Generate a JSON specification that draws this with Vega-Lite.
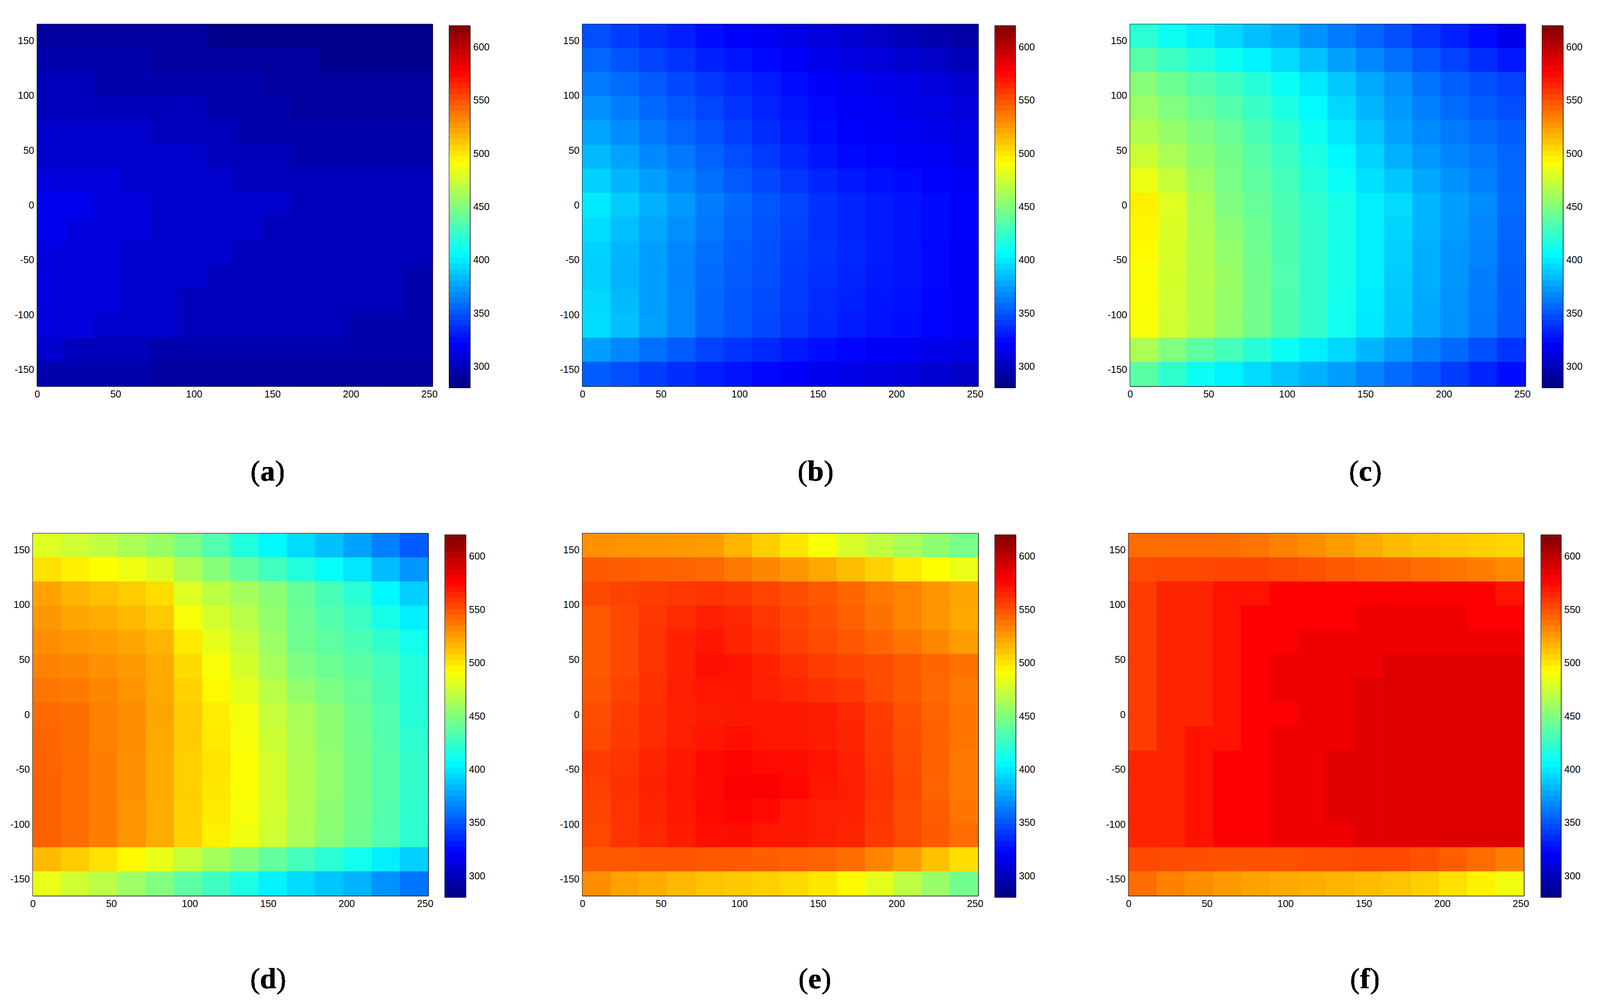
{"$schema":"https://vega.github.io/schema/vega-lite/v6.json","padding":{"left":24,"top":60,"right":0,"bottom":0},"background":"#ffffff","config":{"view":{"stroke":"#000","strokeWidth":2},"axis":{"title":null,"grid":false,"tickSize":-10,"tickColor":"#000","tickWidth":2,"domainColor":"#000","domainWidth":2,"labelFont":"Liberation Sans","labelFontSize":25,"labelColor":"#000","labelPadding":18,"labelOverlap":false,"labelFlush":false}},"datasets":{
"bar":[{"v":282.7},{"v":288},{"v":293.3},{"v":298.6},{"v":303.9},{"v":309.2},{"v":314.5},{"v":319.8},{"v":325.2},{"v":330.5},{"v":335.8},{"v":341.1},{"v":346.4},{"v":351.7},{"v":357},{"v":362.3},{"v":367.7},{"v":373},{"v":378.3},{"v":383.6},{"v":388.9},{"v":394.2},{"v":399.5},{"v":404.8},{"v":410.2},{"v":415.5},{"v":420.8},{"v":426.1},{"v":431.4},{"v":436.7},{"v":442},{"v":447.3},{"v":452.7},{"v":458},{"v":463.3},{"v":468.6},{"v":473.9},{"v":479.2},{"v":484.5},{"v":489.8},{"v":495.2},{"v":500.5},{"v":505.8},{"v":511.1},{"v":516.4},{"v":521.7},{"v":527},{"v":532.3},{"v":537.7},{"v":543},{"v":548.3},{"v":553.6},{"v":558.9},{"v":564.2},{"v":569.5},{"v":574.8},{"v":580.2},{"v":585.5},{"v":590.8},{"v":596.1},{"v":601.4},{"v":606.7},{"v":612},{"v":617.3}],
"a":[
{"x":9,"y":154,"v":290},{"x":27,"y":154,"v":290},{"x":45,"y":154,"v":290},{"x":63,"y":154,"v":290},{"x":81,"y":154,"v":290},{"x":99,"y":154,"v":290},{"x":117,"y":154,"v":285},{"x":135,"y":154,"v":285},{"x":153,"y":154,"v":285},{"x":171,"y":154,"v":285},{"x":189,"y":154,"v":285},{"x":207,"y":154,"v":285},{"x":225,"y":154,"v":285},{"x":243,"y":154,"v":285},
{"x":9,"y":132,"v":295},{"x":27,"y":132,"v":295},{"x":45,"y":132,"v":295},{"x":63,"y":132,"v":295},{"x":81,"y":132,"v":290},{"x":99,"y":132,"v":290},{"x":117,"y":132,"v":290},{"x":135,"y":132,"v":290},{"x":153,"y":132,"v":290},{"x":171,"y":132,"v":290},{"x":189,"y":132,"v":285},{"x":207,"y":132,"v":285},{"x":225,"y":132,"v":285},{"x":243,"y":132,"v":285},
{"x":9,"y":110,"v":300},{"x":27,"y":110,"v":300},{"x":45,"y":110,"v":295},{"x":63,"y":110,"v":295},{"x":81,"y":110,"v":295},{"x":99,"y":110,"v":295},{"x":117,"y":110,"v":295},{"x":135,"y":110,"v":295},{"x":153,"y":110,"v":290},{"x":171,"y":110,"v":290},{"x":189,"y":110,"v":290},{"x":207,"y":110,"v":290},{"x":225,"y":110,"v":290},{"x":243,"y":110,"v":290},
{"x":9,"y":88,"v":300},{"x":27,"y":88,"v":300},{"x":45,"y":88,"v":300},{"x":63,"y":88,"v":300},{"x":81,"y":88,"v":300},{"x":99,"y":88,"v":300},{"x":117,"y":88,"v":295},{"x":135,"y":88,"v":295},{"x":153,"y":88,"v":295},{"x":171,"y":88,"v":290},{"x":189,"y":88,"v":290},{"x":207,"y":88,"v":290},{"x":225,"y":88,"v":290},{"x":243,"y":88,"v":290},
{"x":9,"y":66,"v":305},{"x":27,"y":66,"v":305},{"x":45,"y":66,"v":305},{"x":63,"y":66,"v":305},{"x":81,"y":66,"v":300},{"x":99,"y":66,"v":300},{"x":117,"y":66,"v":300},{"x":135,"y":66,"v":295},{"x":153,"y":66,"v":295},{"x":171,"y":66,"v":295},{"x":189,"y":66,"v":295},{"x":207,"y":66,"v":295},{"x":225,"y":66,"v":295},{"x":243,"y":66,"v":295},
{"x":9,"y":44,"v":305},{"x":27,"y":44,"v":305},{"x":45,"y":44,"v":305},{"x":63,"y":44,"v":305},{"x":81,"y":44,"v":305},{"x":99,"y":44,"v":305},{"x":117,"y":44,"v":300},{"x":135,"y":44,"v":300},{"x":153,"y":44,"v":300},{"x":171,"y":44,"v":295},{"x":189,"y":44,"v":295},{"x":207,"y":44,"v":295},{"x":225,"y":44,"v":295},{"x":243,"y":44,"v":295},
{"x":9,"y":22,"v":311},{"x":27,"y":22,"v":311},{"x":45,"y":22,"v":311},{"x":63,"y":22,"v":305},{"x":81,"y":22,"v":305},{"x":99,"y":22,"v":305},{"x":117,"y":22,"v":305},{"x":135,"y":22,"v":300},{"x":153,"y":22,"v":300},{"x":171,"y":22,"v":300},{"x":189,"y":22,"v":300},{"x":207,"y":22,"v":300},{"x":225,"y":22,"v":300},{"x":243,"y":22,"v":300},
{"x":9,"y":0,"v":317},{"x":27,"y":0,"v":317},{"x":45,"y":0,"v":311},{"x":63,"y":0,"v":311},{"x":81,"y":0,"v":305},{"x":99,"y":0,"v":305},{"x":117,"y":0,"v":305},{"x":135,"y":0,"v":305},{"x":153,"y":0,"v":305},{"x":171,"y":0,"v":300},{"x":189,"y":0,"v":300},{"x":207,"y":0,"v":300},{"x":225,"y":0,"v":300},{"x":243,"y":0,"v":300},
{"x":9,"y":-22,"v":317},{"x":27,"y":-22,"v":311},{"x":45,"y":-22,"v":311},{"x":63,"y":-22,"v":311},{"x":81,"y":-22,"v":305},{"x":99,"y":-22,"v":305},{"x":117,"y":-22,"v":305},{"x":135,"y":-22,"v":305},{"x":153,"y":-22,"v":300},{"x":171,"y":-22,"v":300},{"x":189,"y":-22,"v":300},{"x":207,"y":-22,"v":300},{"x":225,"y":-22,"v":300},{"x":243,"y":-22,"v":300},
{"x":9,"y":-44,"v":311},{"x":27,"y":-44,"v":311},{"x":45,"y":-44,"v":311},{"x":63,"y":-44,"v":305},{"x":81,"y":-44,"v":305},{"x":99,"y":-44,"v":305},{"x":117,"y":-44,"v":305},{"x":135,"y":-44,"v":300},{"x":153,"y":-44,"v":300},{"x":171,"y":-44,"v":300},{"x":189,"y":-44,"v":300},{"x":207,"y":-44,"v":300},{"x":225,"y":-44,"v":300},{"x":243,"y":-44,"v":300},
{"x":9,"y":-66,"v":311},{"x":27,"y":-66,"v":311},{"x":45,"y":-66,"v":311},{"x":63,"y":-66,"v":305},{"x":81,"y":-66,"v":305},{"x":99,"y":-66,"v":305},{"x":117,"y":-66,"v":300},{"x":135,"y":-66,"v":300},{"x":153,"y":-66,"v":300},{"x":171,"y":-66,"v":300},{"x":189,"y":-66,"v":300},{"x":207,"y":-66,"v":300},{"x":225,"y":-66,"v":300},{"x":243,"y":-66,"v":295},
{"x":9,"y":-88,"v":311},{"x":27,"y":-88,"v":311},{"x":45,"y":-88,"v":311},{"x":63,"y":-88,"v":305},{"x":81,"y":-88,"v":305},{"x":99,"y":-88,"v":300},{"x":117,"y":-88,"v":300},{"x":135,"y":-88,"v":300},{"x":153,"y":-88,"v":300},{"x":171,"y":-88,"v":300},{"x":189,"y":-88,"v":300},{"x":207,"y":-88,"v":300},{"x":225,"y":-88,"v":300},{"x":243,"y":-88,"v":295},
{"x":9,"y":-110,"v":311},{"x":27,"y":-110,"v":311},{"x":45,"y":-110,"v":305},{"x":63,"y":-110,"v":305},{"x":81,"y":-110,"v":305},{"x":99,"y":-110,"v":300},{"x":117,"y":-110,"v":300},{"x":135,"y":-110,"v":300},{"x":153,"y":-110,"v":300},{"x":171,"y":-110,"v":300},{"x":189,"y":-110,"v":300},{"x":207,"y":-110,"v":295},{"x":225,"y":-110,"v":295},{"x":243,"y":-110,"v":295},
{"x":9,"y":-132,"v":305},{"x":27,"y":-132,"v":300},{"x":45,"y":-132,"v":300},{"x":63,"y":-132,"v":300},{"x":81,"y":-132,"v":295},{"x":99,"y":-132,"v":295},{"x":117,"y":-132,"v":295},{"x":135,"y":-132,"v":295},{"x":153,"y":-132,"v":295},{"x":171,"y":-132,"v":295},{"x":189,"y":-132,"v":295},{"x":207,"y":-132,"v":295},{"x":225,"y":-132,"v":295},{"x":243,"y":-132,"v":295},
{"x":9,"y":-154,"v":295},{"x":27,"y":-154,"v":295},{"x":45,"y":-154,"v":295},{"x":63,"y":-154,"v":295},{"x":81,"y":-154,"v":290},{"x":99,"y":-154,"v":290},{"x":117,"y":-154,"v":290},{"x":135,"y":-154,"v":290},{"x":153,"y":-154,"v":290},{"x":171,"y":-154,"v":290},{"x":189,"y":-154,"v":290},{"x":207,"y":-154,"v":290},{"x":225,"y":-154,"v":290},{"x":243,"y":-154,"v":290}],
"b":[
{"x":9,"y":154,"v":348},{"x":27,"y":154,"v":342},{"x":45,"y":154,"v":337},{"x":63,"y":154,"v":332},{"x":81,"y":154,"v":326},{"x":99,"y":154,"v":322},{"x":117,"y":154,"v":318},{"x":135,"y":154,"v":314},{"x":153,"y":154,"v":310},{"x":171,"y":154,"v":307},{"x":189,"y":154,"v":303},{"x":207,"y":154,"v":299},{"x":225,"y":154,"v":296},{"x":243,"y":154,"v":292},
{"x":9,"y":132,"v":356},{"x":27,"y":132,"v":350},{"x":45,"y":132,"v":344},{"x":63,"y":132,"v":339},{"x":81,"y":132,"v":333},{"x":99,"y":132,"v":329},{"x":117,"y":132,"v":325},{"x":135,"y":132,"v":320},{"x":153,"y":132,"v":316},{"x":171,"y":132,"v":312},{"x":189,"y":132,"v":310},{"x":207,"y":132,"v":306},{"x":225,"y":132,"v":303},{"x":243,"y":132,"v":299},
{"x":9,"y":110,"v":363},{"x":27,"y":110,"v":358},{"x":45,"y":110,"v":352},{"x":63,"y":110,"v":346},{"x":81,"y":110,"v":340},{"x":99,"y":110,"v":335},{"x":117,"y":110,"v":331},{"x":135,"y":110,"v":326},{"x":153,"y":110,"v":321},{"x":171,"y":110,"v":318},{"x":189,"y":110,"v":316},{"x":207,"y":110,"v":313},{"x":225,"y":110,"v":310},{"x":243,"y":110,"v":307},
{"x":9,"y":88,"v":370},{"x":27,"y":88,"v":364},{"x":45,"y":88,"v":357},{"x":63,"y":88,"v":351},{"x":81,"y":88,"v":345},{"x":99,"y":88,"v":339},{"x":117,"y":88,"v":334},{"x":135,"y":88,"v":329},{"x":153,"y":88,"v":324},{"x":171,"y":88,"v":320},{"x":189,"y":88,"v":318},{"x":207,"y":88,"v":315},{"x":225,"y":88,"v":313},{"x":243,"y":88,"v":310},
{"x":9,"y":66,"v":377},{"x":27,"y":66,"v":369},{"x":45,"y":66,"v":362},{"x":63,"y":66,"v":356},{"x":81,"y":66,"v":350},{"x":99,"y":66,"v":343},{"x":117,"y":66,"v":337},{"x":135,"y":66,"v":331},{"x":153,"y":66,"v":326},{"x":171,"y":66,"v":322},{"x":189,"y":66,"v":320},{"x":207,"y":66,"v":318},{"x":225,"y":66,"v":316},{"x":243,"y":66,"v":313},
{"x":9,"y":44,"v":384},{"x":27,"y":44,"v":376},{"x":45,"y":44,"v":368},{"x":63,"y":44,"v":362},{"x":81,"y":44,"v":355},{"x":99,"y":44,"v":348},{"x":117,"y":44,"v":341},{"x":135,"y":44,"v":335},{"x":153,"y":44,"v":329},{"x":171,"y":44,"v":325},{"x":189,"y":44,"v":323},{"x":207,"y":44,"v":321},{"x":225,"y":44,"v":319},{"x":243,"y":44,"v":316},
{"x":9,"y":22,"v":392},{"x":27,"y":22,"v":383},{"x":45,"y":22,"v":375},{"x":63,"y":22,"v":367},{"x":81,"y":22,"v":359},{"x":99,"y":22,"v":352},{"x":117,"y":22,"v":346},{"x":135,"y":22,"v":340},{"x":153,"y":22,"v":334},{"x":171,"y":22,"v":330},{"x":189,"y":22,"v":327},{"x":207,"y":22,"v":325},{"x":225,"y":22,"v":322},{"x":243,"y":22,"v":319},
{"x":9,"y":0,"v":400},{"x":27,"y":0,"v":390},{"x":45,"y":0,"v":381},{"x":63,"y":0,"v":373},{"x":81,"y":0,"v":364},{"x":99,"y":0,"v":357},{"x":117,"y":0,"v":351},{"x":135,"y":0,"v":345},{"x":153,"y":0,"v":338},{"x":171,"y":0,"v":334},{"x":189,"y":0,"v":331},{"x":207,"y":0,"v":328},{"x":225,"y":0,"v":325},{"x":243,"y":0,"v":322},
{"x":9,"y":-22,"v":396},{"x":27,"y":-22,"v":386},{"x":45,"y":-22,"v":378},{"x":63,"y":-22,"v":370},{"x":81,"y":-22,"v":362},{"x":99,"y":-22,"v":355},{"x":117,"y":-22,"v":350},{"x":135,"y":-22,"v":344},{"x":153,"y":-22,"v":338},{"x":171,"y":-22,"v":334},{"x":189,"y":-22,"v":331},{"x":207,"y":-22,"v":328},{"x":225,"y":-22,"v":325},{"x":243,"y":-22,"v":322},
{"x":9,"y":-44,"v":392},{"x":27,"y":-44,"v":383},{"x":45,"y":-44,"v":375},{"x":63,"y":-44,"v":367},{"x":81,"y":-44,"v":359},{"x":99,"y":-44,"v":353},{"x":117,"y":-44,"v":349},{"x":135,"y":-44,"v":343},{"x":153,"y":-44,"v":339},{"x":171,"y":-44,"v":335},{"x":189,"y":-44,"v":331},{"x":207,"y":-44,"v":328},{"x":225,"y":-44,"v":324},{"x":243,"y":-44,"v":321},
{"x":9,"y":-66,"v":391},{"x":27,"y":-66,"v":382},{"x":45,"y":-66,"v":375},{"x":63,"y":-66,"v":366},{"x":81,"y":-66,"v":358},{"x":99,"y":-66,"v":352},{"x":117,"y":-66,"v":348},{"x":135,"y":-66,"v":342},{"x":153,"y":-66,"v":338},{"x":171,"y":-66,"v":334},{"x":189,"y":-66,"v":330},{"x":207,"y":-66,"v":328},{"x":225,"y":-66,"v":324},{"x":243,"y":-66,"v":321},
{"x":9,"y":-88,"v":394},{"x":27,"y":-88,"v":384},{"x":45,"y":-88,"v":375},{"x":63,"y":-88,"v":367},{"x":81,"y":-88,"v":357},{"x":99,"y":-88,"v":351},{"x":117,"y":-88,"v":347},{"x":135,"y":-88,"v":341},{"x":153,"y":-88,"v":336},{"x":171,"y":-88,"v":333},{"x":189,"y":-88,"v":329},{"x":207,"y":-88,"v":327},{"x":225,"y":-88,"v":323},{"x":243,"y":-88,"v":321},
{"x":9,"y":-110,"v":396},{"x":27,"y":-110,"v":386},{"x":45,"y":-110,"v":376},{"x":63,"y":-110,"v":367},{"x":81,"y":-110,"v":356},{"x":99,"y":-110,"v":351},{"x":117,"y":-110,"v":346},{"x":135,"y":-110,"v":340},{"x":153,"y":-110,"v":335},{"x":171,"y":-110,"v":331},{"x":189,"y":-110,"v":328},{"x":207,"y":-110,"v":326},{"x":225,"y":-110,"v":323},{"x":243,"y":-110,"v":321},
{"x":9,"y":-132,"v":375},{"x":27,"y":-132,"v":367},{"x":45,"y":-132,"v":359},{"x":63,"y":-132,"v":352},{"x":81,"y":-132,"v":344},{"x":99,"y":-132,"v":339},{"x":117,"y":-132,"v":335},{"x":135,"y":-132,"v":330},{"x":153,"y":-132,"v":326},{"x":171,"y":-132,"v":323},{"x":189,"y":-132,"v":320},{"x":207,"y":-132,"v":318},{"x":225,"y":-132,"v":315},{"x":243,"y":-132,"v":313},
{"x":9,"y":-154,"v":353},{"x":27,"y":-154,"v":348},{"x":45,"y":-154,"v":342},{"x":63,"y":-154,"v":337},{"x":81,"y":-154,"v":332},{"x":99,"y":-154,"v":328},{"x":117,"y":-154,"v":324},{"x":135,"y":-154,"v":320},{"x":153,"y":-154,"v":317},{"x":171,"y":-154,"v":314},{"x":189,"y":-154,"v":312},{"x":207,"y":-154,"v":310},{"x":225,"y":-154,"v":307},{"x":243,"y":-154,"v":304}],
"c":[
{"x":9,"y":154,"v":421},{"x":27,"y":154,"v":411},{"x":45,"y":154,"v":402},{"x":63,"y":154,"v":394},{"x":81,"y":154,"v":386},{"x":99,"y":154,"v":380},{"x":117,"y":154,"v":371},{"x":135,"y":154,"v":363},{"x":153,"y":154,"v":356},{"x":171,"y":154,"v":348},{"x":189,"y":154,"v":340},{"x":207,"y":154,"v":333},{"x":225,"y":154,"v":326},{"x":243,"y":154,"v":316},
{"x":9,"y":132,"v":436},{"x":27,"y":132,"v":427},{"x":45,"y":132,"v":419},{"x":63,"y":132,"v":411},{"x":81,"y":132,"v":403},{"x":99,"y":132,"v":395},{"x":117,"y":132,"v":386},{"x":135,"y":132,"v":376},{"x":153,"y":132,"v":367},{"x":171,"y":132,"v":359},{"x":189,"y":132,"v":351},{"x":207,"y":132,"v":344},{"x":225,"y":132,"v":337},{"x":243,"y":132,"v":330},
{"x":9,"y":110,"v":452},{"x":27,"y":110,"v":443},{"x":45,"y":110,"v":435},{"x":63,"y":110,"v":428},{"x":81,"y":110,"v":420},{"x":99,"y":110,"v":410},{"x":117,"y":110,"v":400},{"x":135,"y":110,"v":389},{"x":153,"y":110,"v":379},{"x":171,"y":110,"v":370},{"x":189,"y":110,"v":361},{"x":207,"y":110,"v":354},{"x":225,"y":110,"v":349},{"x":243,"y":110,"v":344},
{"x":9,"y":88,"v":459},{"x":27,"y":88,"v":450},{"x":45,"y":88,"v":442},{"x":63,"y":88,"v":435},{"x":81,"y":88,"v":426},{"x":99,"y":88,"v":416},{"x":117,"y":88,"v":406},{"x":135,"y":88,"v":394},{"x":153,"y":88,"v":383},{"x":171,"y":88,"v":373},{"x":189,"y":88,"v":365},{"x":207,"y":88,"v":358},{"x":225,"y":88,"v":353},{"x":243,"y":88,"v":348},
{"x":9,"y":66,"v":466},{"x":27,"y":66,"v":457},{"x":45,"y":66,"v":449},{"x":63,"y":66,"v":442},{"x":81,"y":66,"v":432},{"x":99,"y":66,"v":423},{"x":117,"y":66,"v":411},{"x":135,"y":66,"v":399},{"x":153,"y":66,"v":388},{"x":171,"y":66,"v":376},{"x":189,"y":66,"v":368},{"x":207,"y":66,"v":363},{"x":225,"y":66,"v":358},{"x":243,"y":66,"v":353},
{"x":9,"y":44,"v":475},{"x":27,"y":44,"v":464},{"x":45,"y":44,"v":454},{"x":63,"y":44,"v":446},{"x":81,"y":44,"v":436},{"x":99,"y":44,"v":427},{"x":117,"y":44,"v":416},{"x":135,"y":44,"v":405},{"x":153,"y":44,"v":393},{"x":171,"y":44,"v":381},{"x":189,"y":44,"v":373},{"x":207,"y":44,"v":367},{"x":225,"y":44,"v":362},{"x":243,"y":44,"v":356},
{"x":9,"y":22,"v":486},{"x":27,"y":22,"v":473},{"x":45,"y":22,"v":459},{"x":63,"y":22,"v":447},{"x":81,"y":22,"v":439},{"x":99,"y":22,"v":430},{"x":117,"y":22,"v":419},{"x":135,"y":22,"v":410},{"x":153,"y":22,"v":397},{"x":171,"y":22,"v":388},{"x":189,"y":22,"v":378},{"x":207,"y":22,"v":371},{"x":225,"y":22,"v":365},{"x":243,"y":22,"v":357},
{"x":9,"y":0,"v":497},{"x":27,"y":0,"v":481},{"x":45,"y":0,"v":464},{"x":63,"y":0,"v":449},{"x":81,"y":0,"v":441},{"x":99,"y":0,"v":432},{"x":117,"y":0,"v":423},{"x":135,"y":0,"v":415},{"x":153,"y":0,"v":402},{"x":171,"y":0,"v":395},{"x":189,"y":0,"v":383},{"x":207,"y":0,"v":375},{"x":225,"y":0,"v":369},{"x":243,"y":0,"v":358},
{"x":9,"y":-22,"v":495},{"x":27,"y":-22,"v":480},{"x":45,"y":-22,"v":465},{"x":63,"y":-22,"v":453},{"x":81,"y":-22,"v":443},{"x":99,"y":-22,"v":433},{"x":117,"y":-22,"v":424},{"x":135,"y":-22,"v":415},{"x":153,"y":-22,"v":402},{"x":171,"y":-22,"v":393},{"x":189,"y":-22,"v":382},{"x":207,"y":-22,"v":374},{"x":225,"y":-22,"v":367},{"x":243,"y":-22,"v":356},
{"x":9,"y":-44,"v":493},{"x":27,"y":-44,"v":479},{"x":45,"y":-44,"v":466},{"x":63,"y":-44,"v":456},{"x":81,"y":-44,"v":444},{"x":99,"y":-44,"v":433},{"x":117,"y":-44,"v":424},{"x":135,"y":-44,"v":414},{"x":153,"y":-44,"v":402},{"x":171,"y":-44,"v":391},{"x":189,"y":-44,"v":380},{"x":207,"y":-44,"v":372},{"x":225,"y":-44,"v":366},{"x":243,"y":-44,"v":355},
{"x":9,"y":-66,"v":491},{"x":27,"y":-66,"v":478},{"x":45,"y":-66,"v":467},{"x":63,"y":-66,"v":458},{"x":81,"y":-66,"v":445},{"x":99,"y":-66,"v":434},{"x":117,"y":-66,"v":424},{"x":135,"y":-66,"v":414},{"x":153,"y":-66,"v":402},{"x":171,"y":-66,"v":390},{"x":189,"y":-66,"v":380},{"x":207,"y":-66,"v":372},{"x":225,"y":-66,"v":364},{"x":243,"y":-66,"v":354},
{"x":9,"y":-88,"v":491},{"x":27,"y":-88,"v":477},{"x":45,"y":-88,"v":466},{"x":63,"y":-88,"v":457},{"x":81,"y":-88,"v":445},{"x":99,"y":-88,"v":433},{"x":117,"y":-88,"v":424},{"x":135,"y":-88,"v":413},{"x":153,"y":-88,"v":401},{"x":171,"y":-88,"v":389},{"x":189,"y":-88,"v":379},{"x":207,"y":-88,"v":371},{"x":225,"y":-88,"v":363},{"x":243,"y":-88,"v":353},
{"x":9,"y":-110,"v":490},{"x":27,"y":-110,"v":476},{"x":45,"y":-110,"v":466},{"x":63,"y":-110,"v":456},{"x":81,"y":-110,"v":445},{"x":99,"y":-110,"v":433},{"x":117,"y":-110,"v":424},{"x":135,"y":-110,"v":413},{"x":153,"y":-110,"v":400},{"x":171,"y":-110,"v":388},{"x":189,"y":-110,"v":378},{"x":207,"y":-110,"v":371},{"x":225,"y":-110,"v":362},{"x":243,"y":-110,"v":352},
{"x":9,"y":-132,"v":464},{"x":27,"y":-132,"v":450},{"x":45,"y":-132,"v":438},{"x":63,"y":-132,"v":430},{"x":81,"y":-132,"v":420},{"x":99,"y":-132,"v":410},{"x":117,"y":-132,"v":402},{"x":135,"y":-132,"v":394},{"x":153,"y":-132,"v":383},{"x":171,"y":-132,"v":373},{"x":189,"y":-132,"v":364},{"x":207,"y":-132,"v":357},{"x":225,"y":-132,"v":348},{"x":243,"y":-132,"v":339},
{"x":9,"y":-154,"v":437},{"x":27,"y":-154,"v":423},{"x":45,"y":-154,"v":411},{"x":63,"y":-154,"v":403},{"x":81,"y":-154,"v":395},{"x":99,"y":-154,"v":387},{"x":117,"y":-154,"v":381},{"x":135,"y":-154,"v":375},{"x":153,"y":-154,"v":366},{"x":171,"y":-154,"v":358},{"x":189,"y":-154,"v":351},{"x":207,"y":-154,"v":342},{"x":225,"y":-154,"v":334},{"x":243,"y":-154,"v":326}],
"d":[
{"x":9,"y":154,"v":481},{"x":27,"y":154,"v":476},{"x":45,"y":154,"v":471},{"x":63,"y":154,"v":464},{"x":81,"y":154,"v":458},{"x":99,"y":154,"v":448},{"x":117,"y":154,"v":434},{"x":135,"y":154,"v":418},{"x":153,"y":154,"v":405},{"x":171,"y":154,"v":395},{"x":189,"y":154,"v":386},{"x":207,"y":154,"v":376},{"x":225,"y":154,"v":365},{"x":243,"y":154,"v":352},
{"x":9,"y":132,"v":502},{"x":27,"y":132,"v":497},{"x":45,"y":132,"v":492},{"x":63,"y":132,"v":487},{"x":81,"y":132,"v":480},{"x":99,"y":132,"v":465},{"x":117,"y":132,"v":452},{"x":135,"y":132,"v":440},{"x":153,"y":132,"v":429},{"x":171,"y":132,"v":418},{"x":189,"y":132,"v":409},{"x":207,"y":132,"v":399},{"x":225,"y":132,"v":385},{"x":243,"y":132,"v":372},
{"x":9,"y":110,"v":523},{"x":27,"y":110,"v":517},{"x":45,"y":110,"v":513},{"x":63,"y":110,"v":509},{"x":81,"y":110,"v":503},{"x":99,"y":110,"v":481},{"x":117,"y":110,"v":470},{"x":135,"y":110,"v":462},{"x":153,"y":110,"v":453},{"x":171,"y":110,"v":441},{"x":189,"y":110,"v":431},{"x":207,"y":110,"v":421},{"x":225,"y":110,"v":405},{"x":243,"y":110,"v":391},
{"x":9,"y":88,"v":527},{"x":27,"y":88,"v":522},{"x":45,"y":88,"v":519},{"x":63,"y":88,"v":515},{"x":81,"y":88,"v":510},{"x":99,"y":88,"v":490},{"x":117,"y":88,"v":477},{"x":135,"y":88,"v":468},{"x":153,"y":88,"v":456},{"x":171,"y":88,"v":443},{"x":189,"y":88,"v":435},{"x":207,"y":88,"v":427},{"x":225,"y":88,"v":415},{"x":243,"y":88,"v":402},
{"x":9,"y":66,"v":530},{"x":27,"y":66,"v":527},{"x":45,"y":66,"v":525},{"x":63,"y":66,"v":522},{"x":81,"y":66,"v":517},{"x":99,"y":66,"v":499},{"x":117,"y":66,"v":484},{"x":135,"y":66,"v":473},{"x":153,"y":66,"v":459},{"x":171,"y":66,"v":444},{"x":189,"y":66,"v":438},{"x":207,"y":66,"v":432},{"x":225,"y":66,"v":424},{"x":243,"y":66,"v":413},
{"x":9,"y":44,"v":534},{"x":27,"y":44,"v":532},{"x":45,"y":44,"v":529},{"x":63,"y":44,"v":526},{"x":81,"y":44,"v":520},{"x":99,"y":44,"v":504},{"x":117,"y":44,"v":490},{"x":135,"y":44,"v":478},{"x":153,"y":44,"v":463},{"x":171,"y":44,"v":449},{"x":189,"y":44,"v":443},{"x":207,"y":44,"v":437},{"x":225,"y":44,"v":430},{"x":243,"y":44,"v":418},
{"x":9,"y":22,"v":538},{"x":27,"y":22,"v":536},{"x":45,"y":22,"v":532},{"x":63,"y":22,"v":528},{"x":81,"y":22,"v":521},{"x":99,"y":22,"v":507},{"x":117,"y":22,"v":494},{"x":135,"y":22,"v":483},{"x":153,"y":22,"v":468},{"x":171,"y":22,"v":456},{"x":189,"y":22,"v":448},{"x":207,"y":22,"v":441},{"x":225,"y":22,"v":432},{"x":243,"y":22,"v":419},
{"x":9,"y":0,"v":542},{"x":27,"y":0,"v":540},{"x":45,"y":0,"v":534},{"x":63,"y":0,"v":530},{"x":81,"y":0,"v":522},{"x":99,"y":0,"v":509},{"x":117,"y":0,"v":498},{"x":135,"y":0,"v":488},{"x":153,"y":0,"v":473},{"x":171,"y":0,"v":463},{"x":189,"y":0,"v":454},{"x":207,"y":0,"v":444},{"x":225,"y":0,"v":434},{"x":243,"y":0,"v":420},
{"x":9,"y":-22,"v":543},{"x":27,"y":-22,"v":540},{"x":45,"y":-22,"v":534},{"x":63,"y":-22,"v":530},{"x":81,"y":-22,"v":521},{"x":99,"y":-22,"v":509},{"x":117,"y":-22,"v":499},{"x":135,"y":-22,"v":489},{"x":153,"y":-22,"v":475},{"x":171,"y":-22,"v":464},{"x":189,"y":-22,"v":455},{"x":207,"y":-22,"v":445},{"x":225,"y":-22,"v":435},{"x":243,"y":-22,"v":422},
{"x":9,"y":-44,"v":544},{"x":27,"y":-44,"v":541},{"x":45,"y":-44,"v":535},{"x":63,"y":-44,"v":529},{"x":81,"y":-44,"v":520},{"x":99,"y":-44,"v":508},{"x":117,"y":-44,"v":501},{"x":135,"y":-44,"v":491},{"x":153,"y":-44,"v":478},{"x":171,"y":-44,"v":465},{"x":189,"y":-44,"v":456},{"x":207,"y":-44,"v":446},{"x":225,"y":-44,"v":436},{"x":243,"y":-44,"v":424},
{"x":9,"y":-66,"v":545},{"x":27,"y":-66,"v":541},{"x":45,"y":-66,"v":535},{"x":63,"y":-66,"v":529},{"x":81,"y":-66,"v":520},{"x":99,"y":-66,"v":508},{"x":117,"y":-66,"v":500},{"x":135,"y":-66,"v":491},{"x":153,"y":-66,"v":478},{"x":171,"y":-66,"v":466},{"x":189,"y":-66,"v":456},{"x":207,"y":-66,"v":446},{"x":225,"y":-66,"v":436},{"x":243,"y":-66,"v":424},
{"x":9,"y":-88,"v":545},{"x":27,"y":-88,"v":541},{"x":45,"y":-88,"v":535},{"x":63,"y":-88,"v":528},{"x":81,"y":-88,"v":520},{"x":99,"y":-88,"v":507},{"x":117,"y":-88,"v":499},{"x":135,"y":-88,"v":489},{"x":153,"y":-88,"v":477},{"x":171,"y":-88,"v":465},{"x":189,"y":-88,"v":454},{"x":207,"y":-88,"v":445},{"x":225,"y":-88,"v":435},{"x":243,"y":-88,"v":423},
{"x":9,"y":-110,"v":545},{"x":27,"y":-110,"v":541},{"x":45,"y":-110,"v":535},{"x":63,"y":-110,"v":528},{"x":81,"y":-110,"v":520},{"x":99,"y":-110,"v":507},{"x":117,"y":-110,"v":497},{"x":135,"y":-110,"v":487},{"x":153,"y":-110,"v":476},{"x":171,"y":-110,"v":464},{"x":189,"y":-110,"v":453},{"x":207,"y":-110,"v":444},{"x":225,"y":-110,"v":434},{"x":243,"y":-110,"v":422},
{"x":9,"y":-132,"v":515},{"x":27,"y":-132,"v":509},{"x":45,"y":-132,"v":502},{"x":63,"y":-132,"v":494},{"x":81,"y":-132,"v":485},{"x":99,"y":-132,"v":473},{"x":117,"y":-132,"v":462},{"x":135,"y":-132,"v":452},{"x":153,"y":-132,"v":440},{"x":171,"y":-132,"v":430},{"x":189,"y":-132,"v":421},{"x":207,"y":-132,"v":413},{"x":225,"y":-132,"v":402},{"x":243,"y":-132,"v":391},
{"x":9,"y":-154,"v":485},{"x":27,"y":-154,"v":476},{"x":45,"y":-154,"v":469},{"x":63,"y":-154,"v":459},{"x":81,"y":-154,"v":450},{"x":99,"y":-154,"v":438},{"x":117,"y":-154,"v":428},{"x":135,"y":-154,"v":416},{"x":153,"y":-154,"v":403},{"x":171,"y":-154,"v":395},{"x":189,"y":-154,"v":388},{"x":207,"y":-154,"v":382},{"x":225,"y":-154,"v":371},{"x":243,"y":-154,"v":361}],
"e":[
{"x":9,"y":154,"v":529},{"x":27,"y":154,"v":528},{"x":45,"y":154,"v":527},{"x":63,"y":154,"v":526},{"x":81,"y":154,"v":525},{"x":99,"y":154,"v":517},{"x":117,"y":154,"v":508},{"x":135,"y":154,"v":500},{"x":153,"y":154,"v":490},{"x":171,"y":154,"v":479},{"x":189,"y":154,"v":471},{"x":207,"y":154,"v":463},{"x":225,"y":154,"v":455},{"x":243,"y":154,"v":447},
{"x":9,"y":132,"v":547},{"x":27,"y":132,"v":546},{"x":45,"y":132,"v":545},{"x":63,"y":132,"v":544},{"x":81,"y":132,"v":542},{"x":99,"y":132,"v":537},{"x":117,"y":132,"v":532},{"x":135,"y":132,"v":527},{"x":153,"y":132,"v":521},{"x":171,"y":132,"v":514},{"x":189,"y":132,"v":507},{"x":207,"y":132,"v":499},{"x":225,"y":132,"v":492},{"x":243,"y":132,"v":485},
{"x":9,"y":110,"v":553},{"x":27,"y":110,"v":555},{"x":45,"y":110,"v":557},{"x":63,"y":110,"v":559},{"x":81,"y":110,"v":560},{"x":99,"y":110,"v":558},{"x":117,"y":110,"v":555},{"x":135,"y":110,"v":551},{"x":153,"y":110,"v":548},{"x":171,"y":110,"v":543},{"x":189,"y":110,"v":537},{"x":207,"y":110,"v":533},{"x":225,"y":110,"v":528},{"x":243,"y":110,"v":522},
{"x":9,"y":88,"v":548},{"x":27,"y":88,"v":553},{"x":45,"y":88,"v":559},{"x":63,"y":88,"v":563},{"x":81,"y":88,"v":567},{"x":99,"y":88,"v":564},{"x":117,"y":88,"v":559},{"x":135,"y":88,"v":554},{"x":153,"y":88,"v":550},{"x":171,"y":88,"v":545},{"x":189,"y":88,"v":539},{"x":207,"y":88,"v":533},{"x":225,"y":88,"v":527},{"x":243,"y":88,"v":521},
{"x":9,"y":66,"v":547},{"x":27,"y":66,"v":553},{"x":45,"y":66,"v":560},{"x":63,"y":66,"v":566},{"x":81,"y":66,"v":570},{"x":99,"y":66,"v":565},{"x":117,"y":66,"v":561},{"x":135,"y":66,"v":556},{"x":153,"y":66,"v":552},{"x":171,"y":66,"v":548},{"x":189,"y":66,"v":543},{"x":207,"y":66,"v":538},{"x":225,"y":66,"v":532},{"x":243,"y":66,"v":525},
{"x":9,"y":44,"v":547},{"x":27,"y":44,"v":553},{"x":45,"y":44,"v":560},{"x":63,"y":44,"v":566},{"x":81,"y":44,"v":572},{"x":99,"y":44,"v":571},{"x":117,"y":44,"v":566},{"x":135,"y":44,"v":561},{"x":153,"y":44,"v":557},{"x":171,"y":44,"v":554},{"x":189,"y":44,"v":551},{"x":207,"y":44,"v":547},{"x":225,"y":44,"v":543},{"x":243,"y":44,"v":539},
{"x":9,"y":22,"v":549},{"x":27,"y":22,"v":555},{"x":45,"y":22,"v":561},{"x":63,"y":22,"v":567},{"x":81,"y":22,"v":570},{"x":99,"y":22,"v":570},{"x":117,"y":22,"v":567},{"x":135,"y":22,"v":564},{"x":153,"y":22,"v":561},{"x":171,"y":22,"v":558},{"x":189,"y":22,"v":552},{"x":207,"y":22,"v":547},{"x":225,"y":22,"v":542},{"x":243,"y":22,"v":537},
{"x":9,"y":0,"v":551},{"x":27,"y":0,"v":557},{"x":45,"y":0,"v":562},{"x":63,"y":0,"v":566},{"x":81,"y":0,"v":568},{"x":99,"y":0,"v":569},{"x":117,"y":0,"v":569},{"x":135,"y":0,"v":569},{"x":153,"y":0,"v":568},{"x":171,"y":0,"v":564},{"x":189,"y":0,"v":557},{"x":207,"y":0,"v":550},{"x":225,"y":0,"v":544},{"x":243,"y":0,"v":538},
{"x":9,"y":-22,"v":553},{"x":27,"y":-22,"v":558},{"x":45,"y":-22,"v":563},{"x":63,"y":-22,"v":567},{"x":81,"y":-22,"v":570},{"x":99,"y":-22,"v":572},{"x":117,"y":-22,"v":570},{"x":135,"y":-22,"v":569},{"x":153,"y":-22,"v":568},{"x":171,"y":-22,"v":565},{"x":189,"y":-22,"v":558},{"x":207,"y":-22,"v":551},{"x":225,"y":-22,"v":545},{"x":243,"y":-22,"v":538},
{"x":9,"y":-44,"v":557},{"x":27,"y":-44,"v":560},{"x":45,"y":-44,"v":565},{"x":63,"y":-44,"v":569},{"x":81,"y":-44,"v":574},{"x":99,"y":-44,"v":576},{"x":117,"y":-44,"v":574},{"x":135,"y":-44,"v":573},{"x":153,"y":-44,"v":571},{"x":171,"y":-44,"v":567},{"x":189,"y":-44,"v":559},{"x":207,"y":-44,"v":552},{"x":225,"y":-44,"v":545},{"x":243,"y":-44,"v":537},
{"x":9,"y":-66,"v":556},{"x":27,"y":-66,"v":561},{"x":45,"y":-66,"v":566},{"x":63,"y":-66,"v":570},{"x":81,"y":-66,"v":574},{"x":99,"y":-66,"v":578},{"x":117,"y":-66,"v":578},{"x":135,"y":-66,"v":575},{"x":153,"y":-66,"v":570},{"x":171,"y":-66,"v":567},{"x":189,"y":-66,"v":560},{"x":207,"y":-66,"v":553},{"x":225,"y":-66,"v":544},{"x":243,"y":-66,"v":537},
{"x":9,"y":-88,"v":554},{"x":27,"y":-88,"v":560},{"x":45,"y":-88,"v":565},{"x":63,"y":-88,"v":569},{"x":81,"y":-88,"v":574},{"x":99,"y":-88,"v":576},{"x":117,"y":-88,"v":574},{"x":135,"y":-88,"v":569},{"x":153,"y":-88,"v":567},{"x":171,"y":-88,"v":566},{"x":189,"y":-88,"v":559},{"x":207,"y":-88,"v":552},{"x":225,"y":-88,"v":546},{"x":243,"y":-88,"v":538},
{"x":9,"y":-110,"v":553},{"x":27,"y":-110,"v":560},{"x":45,"y":-110,"v":564},{"x":63,"y":-110,"v":568},{"x":81,"y":-110,"v":572},{"x":99,"y":-110,"v":573},{"x":117,"y":-110,"v":570},{"x":135,"y":-110,"v":569},{"x":153,"y":-110,"v":567},{"x":171,"y":-110,"v":565},{"x":189,"y":-110,"v":558},{"x":207,"y":-110,"v":552},{"x":225,"y":-110,"v":547},{"x":243,"y":-110,"v":541},
{"x":9,"y":-132,"v":547},{"x":27,"y":-132,"v":548},{"x":45,"y":-132,"v":549},{"x":63,"y":-132,"v":549},{"x":81,"y":-132,"v":548},{"x":99,"y":-132,"v":547},{"x":117,"y":-132,"v":546},{"x":135,"y":-132,"v":545},{"x":153,"y":-132,"v":544},{"x":171,"y":-132,"v":541},{"x":189,"y":-132,"v":533},{"x":207,"y":-132,"v":525},{"x":225,"y":-132,"v":513},{"x":243,"y":-132,"v":503},
{"x":9,"y":-154,"v":530},{"x":27,"y":-154,"v":523},{"x":45,"y":-154,"v":520},{"x":63,"y":-154,"v":515},{"x":81,"y":-154,"v":512},{"x":99,"y":-154,"v":510},{"x":117,"y":-154,"v":508},{"x":135,"y":-154,"v":505},{"x":153,"y":-154,"v":500},{"x":171,"y":-154,"v":494},{"x":189,"y":-154,"v":483},{"x":207,"y":-154,"v":470},{"x":225,"y":-154,"v":458},{"x":243,"y":-154,"v":445}],
"f":[
{"x":9,"y":154,"v":541},{"x":27,"y":154,"v":541},{"x":45,"y":154,"v":541},{"x":63,"y":154,"v":540},{"x":81,"y":154,"v":538},{"x":99,"y":154,"v":534},{"x":117,"y":154,"v":530},{"x":135,"y":154,"v":525},{"x":153,"y":154,"v":520},{"x":171,"y":154,"v":515},{"x":189,"y":154,"v":512},{"x":207,"y":154,"v":510},{"x":225,"y":154,"v":508},{"x":243,"y":154,"v":506},
{"x":9,"y":132,"v":552},{"x":27,"y":132,"v":553},{"x":45,"y":132,"v":553},{"x":63,"y":132,"v":554},{"x":81,"y":132,"v":554},{"x":99,"y":132,"v":552},{"x":117,"y":132,"v":550},{"x":135,"y":132,"v":547},{"x":153,"y":132,"v":545},{"x":171,"y":132,"v":544},{"x":189,"y":132,"v":541},{"x":207,"y":132,"v":538},{"x":225,"y":132,"v":535},{"x":243,"y":132,"v":531},
{"x":9,"y":110,"v":557},{"x":27,"y":110,"v":565},{"x":45,"y":110,"v":565},{"x":63,"y":110,"v":571},{"x":81,"y":110,"v":571},{"x":99,"y":110,"v":577},{"x":117,"y":110,"v":577},{"x":135,"y":110,"v":577},{"x":153,"y":110,"v":577},{"x":171,"y":110,"v":577},{"x":189,"y":110,"v":577},{"x":207,"y":110,"v":577},{"x":225,"y":110,"v":577},{"x":243,"y":110,"v":571},
{"x":9,"y":88,"v":557},{"x":27,"y":88,"v":565},{"x":45,"y":88,"v":565},{"x":63,"y":88,"v":571},{"x":81,"y":88,"v":577},{"x":99,"y":88,"v":577},{"x":117,"y":88,"v":577},{"x":135,"y":88,"v":577},{"x":153,"y":88,"v":582},{"x":171,"y":88,"v":582},{"x":189,"y":88,"v":582},{"x":207,"y":88,"v":582},{"x":225,"y":88,"v":577},{"x":243,"y":88,"v":577},
{"x":9,"y":66,"v":557},{"x":27,"y":66,"v":565},{"x":45,"y":66,"v":565},{"x":63,"y":66,"v":571},{"x":81,"y":66,"v":577},{"x":99,"y":66,"v":577},{"x":117,"y":66,"v":582},{"x":135,"y":66,"v":582},{"x":153,"y":66,"v":582},{"x":171,"y":66,"v":582},{"x":189,"y":66,"v":582},{"x":207,"y":66,"v":582},{"x":225,"y":66,"v":582},{"x":243,"y":66,"v":582},
{"x":9,"y":44,"v":557},{"x":27,"y":44,"v":565},{"x":45,"y":44,"v":565},{"x":63,"y":44,"v":571},{"x":81,"y":44,"v":577},{"x":99,"y":44,"v":582},{"x":117,"y":44,"v":582},{"x":135,"y":44,"v":582},{"x":153,"y":44,"v":582},{"x":171,"y":44,"v":587},{"x":189,"y":44,"v":587},{"x":207,"y":44,"v":587},{"x":225,"y":44,"v":587},{"x":243,"y":44,"v":587},
{"x":9,"y":22,"v":557},{"x":27,"y":22,"v":565},{"x":45,"y":22,"v":565},{"x":63,"y":22,"v":571},{"x":81,"y":22,"v":577},{"x":99,"y":22,"v":582},{"x":117,"y":22,"v":582},{"x":135,"y":22,"v":582},{"x":153,"y":22,"v":587},{"x":171,"y":22,"v":587},{"x":189,"y":22,"v":587},{"x":207,"y":22,"v":587},{"x":225,"y":22,"v":587},{"x":243,"y":22,"v":587},
{"x":9,"y":0,"v":557},{"x":27,"y":0,"v":565},{"x":45,"y":0,"v":565},{"x":63,"y":0,"v":571},{"x":81,"y":0,"v":577},{"x":99,"y":0,"v":577},{"x":117,"y":0,"v":582},{"x":135,"y":0,"v":582},{"x":153,"y":0,"v":587},{"x":171,"y":0,"v":587},{"x":189,"y":0,"v":587},{"x":207,"y":0,"v":587},{"x":225,"y":0,"v":587},{"x":243,"y":0,"v":587},
{"x":9,"y":-22,"v":557},{"x":27,"y":-22,"v":565},{"x":45,"y":-22,"v":571},{"x":63,"y":-22,"v":571},{"x":81,"y":-22,"v":577},{"x":99,"y":-22,"v":582},{"x":117,"y":-22,"v":582},{"x":135,"y":-22,"v":582},{"x":153,"y":-22,"v":587},{"x":171,"y":-22,"v":587},{"x":189,"y":-22,"v":587},{"x":207,"y":-22,"v":587},{"x":225,"y":-22,"v":587},{"x":243,"y":-22,"v":587},
{"x":9,"y":-44,"v":565},{"x":27,"y":-44,"v":565},{"x":45,"y":-44,"v":571},{"x":63,"y":-44,"v":577},{"x":81,"y":-44,"v":577},{"x":99,"y":-44,"v":582},{"x":117,"y":-44,"v":582},{"x":135,"y":-44,"v":587},{"x":153,"y":-44,"v":587},{"x":171,"y":-44,"v":587},{"x":189,"y":-44,"v":587},{"x":207,"y":-44,"v":587},{"x":225,"y":-44,"v":587},{"x":243,"y":-44,"v":587},
{"x":9,"y":-66,"v":565},{"x":27,"y":-66,"v":565},{"x":45,"y":-66,"v":571},{"x":63,"y":-66,"v":577},{"x":81,"y":-66,"v":577},{"x":99,"y":-66,"v":582},{"x":117,"y":-66,"v":582},{"x":135,"y":-66,"v":587},{"x":153,"y":-66,"v":587},{"x":171,"y":-66,"v":587},{"x":189,"y":-66,"v":587},{"x":207,"y":-66,"v":587},{"x":225,"y":-66,"v":587},{"x":243,"y":-66,"v":587},
{"x":9,"y":-88,"v":565},{"x":27,"y":-88,"v":565},{"x":45,"y":-88,"v":571},{"x":63,"y":-88,"v":577},{"x":81,"y":-88,"v":577},{"x":99,"y":-88,"v":582},{"x":117,"y":-88,"v":582},{"x":135,"y":-88,"v":587},{"x":153,"y":-88,"v":587},{"x":171,"y":-88,"v":587},{"x":189,"y":-88,"v":587},{"x":207,"y":-88,"v":587},{"x":225,"y":-88,"v":587},{"x":243,"y":-88,"v":587},
{"x":9,"y":-110,"v":565},{"x":27,"y":-110,"v":565},{"x":45,"y":-110,"v":571},{"x":63,"y":-110,"v":577},{"x":81,"y":-110,"v":577},{"x":99,"y":-110,"v":582},{"x":117,"y":-110,"v":582},{"x":135,"y":-110,"v":582},{"x":153,"y":-110,"v":587},{"x":171,"y":-110,"v":587},{"x":189,"y":-110,"v":587},{"x":207,"y":-110,"v":587},{"x":225,"y":-110,"v":587},{"x":243,"y":-110,"v":587},
{"x":9,"y":-132,"v":553},{"x":27,"y":-132,"v":552},{"x":45,"y":-132,"v":551},{"x":63,"y":-132,"v":550},{"x":81,"y":-132,"v":550},{"x":99,"y":-132,"v":550},{"x":117,"y":-132,"v":551},{"x":135,"y":-132,"v":552},{"x":153,"y":-132,"v":553},{"x":171,"y":-132,"v":553},{"x":189,"y":-132,"v":550},{"x":207,"y":-132,"v":546},{"x":225,"y":-132,"v":541},{"x":243,"y":-132,"v":535},
{"x":9,"y":-154,"v":541},{"x":27,"y":-154,"v":534},{"x":45,"y":-154,"v":530},{"x":63,"y":-154,"v":526},{"x":81,"y":-154,"v":523},{"x":99,"y":-154,"v":521},{"x":117,"y":-154,"v":519},{"x":135,"y":-154,"v":517},{"x":153,"y":-154,"v":514},{"x":171,"y":-154,"v":512},{"x":189,"y":-154,"v":508},{"x":207,"y":-154,"v":502},{"x":225,"y":-154,"v":496},{"x":243,"y":-154,"v":487}]
},"vconcat":[{"hconcat":[
{"width":11,"height":927,"view":{"stroke":null},"data":{"values":[{}]},"mark":{"type":"rect","opacity":0}},
{"width":1012,"height":927,"data":{"name":"a"},"layer":[{"mark":{"type":"rect","width":73,"height":63,"clip":true},"encoding":{"x":{"field":"x","type":"quantitative","scale":{"domain":[0,252],"nice":false,"zero":false},"axis":{"values":[0,50,100,150,200,250]}},"y":{"field":"y","type":"quantitative","scale":{"domain":[-165,165],"nice":false,"zero":false},"axis":{"labelExpr":"''+datum.value","values":[-150,-100,-50,0,50,100,150]}},"color":{"field":"v","type":"quantitative","legend":null,"scale":{"interpolate":"rgb","domain":[280,322,407,492,577,620],"range":["#000080","#0000ff","#00ffff","#ffff00","#ff0000","#800000"]}}}},{"mark":{"type":"text","text":"(","align":"right","dx":-19,"dy":219,"font":"Liberation Serif","fontSize":75,"baseline":"middle"},"encoding":{"x":{"datum":147,"axis":{"orient":"top","labels":false,"values":[0,50,100,150,200,250]}},"y":{"datum":-165,"axis":{"orient":"right","labels":false,"values":[-150,-100,-50,0,50,100,150]}}}},{"mark":{"type":"text","text":"a","align":"center","dy":219,"font":"Liberation Serif","fontWeight":"bold","fontSize":75,"baseline":"middle"},"encoding":{"x":{"datum":147,"axis":null},"y":{"datum":-165,"axis":null}}},{"mark":{"type":"text","text":")","align":"left","dx":19,"dy":219,"font":"Liberation Serif","fontSize":75,"baseline":"middle"},"encoding":{"x":{"datum":147,"axis":null},"y":{"datum":-165,"axis":null}}}],"resolve":{"axis":{"x":"independent","y":"independent"}}},
{"width":43,"height":927,"view":{"stroke":null},"data":{"values":[{}]},"mark":{"type":"rect","opacity":0}},
{"vconcat":[{"width":53,"height":4,"view":{"stroke":null},"data":{"values":[{}]},"mark":{"type":"rect","opacity":0}},{"width":53,"height":927,"data":{"name":"bar"},"layer":[{"mark":{"type":"rect","width":53,"height":16,"clip":true},"encoding":{"x":{"datum":0.5,"scale":{"domain":[0,1]},"axis":null},"y":{"field":"v","type":"quantitative","scale":{"domain":[280,620],"nice":false,"zero":false},"axis":{"orient":"right","values":[300,350,400,450,500,550,600]}},"color":{"field":"v","type":"quantitative","legend":null,"scale":{"interpolate":"rgb","domain":[280,322,407,492,577,620],"range":["#000080","#0000ff","#00ffff","#ffff00","#ff0000","#800000"]}}}},{"mark":{"type":"rect","width":53,"height":16,"opacity":0},"encoding":{"x":{"datum":0.5,"axis":null},"y":{"field":"v","type":"quantitative","axis":{"orient":"left","labels":false,"values":[300,350,400,450,500,550,600]}}}}],"resolve":{"axis":{"y":"independent"}}}],"spacing":0,"bounds":"flush"},
{"width":341,"height":927,"view":{"stroke":null},"data":{"values":[{}]},"mark":{"type":"rect","opacity":0}},
{"width":1013,"height":927,"data":{"name":"b"},"layer":[{"mark":{"type":"rect","width":73,"height":63,"clip":true},"encoding":{"x":{"field":"x","type":"quantitative","scale":{"domain":[0,252],"nice":false,"zero":false},"axis":{"values":[0,50,100,150,200,250]}},"y":{"field":"y","type":"quantitative","scale":{"domain":[-165,165],"nice":false,"zero":false},"axis":{"labelExpr":"''+datum.value","values":[-150,-100,-50,0,50,100,150]}},"color":{"field":"v","type":"quantitative","legend":null,"scale":{"interpolate":"rgb","domain":[280,322,407,492,577,620],"range":["#000080","#0000ff","#00ffff","#ffff00","#ff0000","#800000"]}}}},{"mark":{"type":"text","text":"(","align":"right","dx":-21,"dy":219,"font":"Liberation Serif","fontSize":75,"baseline":"middle"},"encoding":{"x":{"datum":148.5,"axis":{"orient":"top","labels":false,"values":[0,50,100,150,200,250]}},"y":{"datum":-165,"axis":{"orient":"right","labels":false,"values":[-150,-100,-50,0,50,100,150]}}}},{"mark":{"type":"text","text":"b","align":"center","dy":219,"font":"Liberation Serif","fontWeight":"bold","fontSize":75,"baseline":"middle"},"encoding":{"x":{"datum":148.5,"axis":null},"y":{"datum":-165,"axis":null}}},{"mark":{"type":"text","text":")","align":"left","dx":21,"dy":219,"font":"Liberation Serif","fontSize":75,"baseline":"middle"},"encoding":{"x":{"datum":148.5,"axis":null},"y":{"datum":-165,"axis":null}}}],"resolve":{"axis":{"x":"independent","y":"independent"}}},
{"width":43,"height":927,"view":{"stroke":null},"data":{"values":[{}]},"mark":{"type":"rect","opacity":0}},
{"vconcat":[{"width":52,"height":4,"view":{"stroke":null},"data":{"values":[{}]},"mark":{"type":"rect","opacity":0}},{"width":52,"height":927,"data":{"name":"bar"},"layer":[{"mark":{"type":"rect","width":53,"height":16,"clip":true},"encoding":{"x":{"datum":0.5,"scale":{"domain":[0,1]},"axis":null},"y":{"field":"v","type":"quantitative","scale":{"domain":[280,620],"nice":false,"zero":false},"axis":{"orient":"right","values":[300,350,400,450,500,550,600]}},"color":{"field":"v","type":"quantitative","legend":null,"scale":{"interpolate":"rgb","domain":[280,322,407,492,577,620],"range":["#000080","#0000ff","#00ffff","#ffff00","#ff0000","#800000"]}}}},{"mark":{"type":"rect","width":53,"height":16,"opacity":0},"encoding":{"x":{"datum":0.5,"axis":null},"y":{"field":"v","type":"quantitative","axis":{"orient":"left","labels":false,"values":[300,350,400,450,500,550,600]}}}}],"resolve":{"axis":{"y":"independent"}}}],"spacing":0,"bounds":"flush"},
{"width":346,"height":927,"view":{"stroke":null},"data":{"values":[{}]},"mark":{"type":"rect","opacity":0}},
{"width":1012,"height":927,"data":{"name":"c"},"layer":[{"mark":{"type":"rect","width":73,"height":63,"clip":true},"encoding":{"x":{"field":"x","type":"quantitative","scale":{"domain":[0,252],"nice":false,"zero":false},"axis":{"values":[0,50,100,150,200,250]}},"y":{"field":"y","type":"quantitative","scale":{"domain":[-165,165],"nice":false,"zero":false},"axis":{"labelExpr":"''+datum.value","values":[-150,-100,-50,0,50,100,150]}},"color":{"field":"v","type":"quantitative","legend":null,"scale":{"interpolate":"rgb","domain":[280,322,407,492,577,620],"range":["#000080","#0000ff","#00ffff","#ffff00","#ff0000","#800000"]}}}},{"mark":{"type":"text","text":"(","align":"right","dx":-17,"dy":219,"font":"Liberation Serif","fontSize":75,"baseline":"middle"},"encoding":{"x":{"datum":150,"axis":{"orient":"top","labels":false,"values":[0,50,100,150,200,250]}},"y":{"datum":-165,"axis":{"orient":"right","labels":false,"values":[-150,-100,-50,0,50,100,150]}}}},{"mark":{"type":"text","text":"c","align":"center","dy":219,"font":"Liberation Serif","fontWeight":"bold","fontSize":75,"baseline":"middle"},"encoding":{"x":{"datum":150,"axis":null},"y":{"datum":-165,"axis":null}}},{"mark":{"type":"text","text":")","align":"left","dx":17,"dy":219,"font":"Liberation Serif","fontSize":75,"baseline":"middle"},"encoding":{"x":{"datum":150,"axis":null},"y":{"datum":-165,"axis":null}}}],"resolve":{"axis":{"x":"independent","y":"independent"}}},
{"width":43,"height":927,"view":{"stroke":null},"data":{"values":[{}]},"mark":{"type":"rect","opacity":0}},
{"vconcat":[{"width":53,"height":4,"view":{"stroke":null},"data":{"values":[{}]},"mark":{"type":"rect","opacity":0}},{"width":53,"height":927,"data":{"name":"bar"},"layer":[{"mark":{"type":"rect","width":53,"height":16,"clip":true},"encoding":{"x":{"datum":0.5,"scale":{"domain":[0,1]},"axis":null},"y":{"field":"v","type":"quantitative","scale":{"domain":[280,620],"nice":false,"zero":false},"axis":{"orient":"right","values":[300,350,400,450,500,550,600]}},"color":{"field":"v","type":"quantitative","legend":null,"scale":{"interpolate":"rgb","domain":[280,322,407,492,577,620],"range":["#000080","#0000ff","#00ffff","#ffff00","#ff0000","#800000"]}}}},{"mark":{"type":"rect","width":53,"height":16,"opacity":0},"encoding":{"x":{"datum":0.5,"axis":null},"y":{"field":"v","type":"quantitative","axis":{"orient":"left","labels":false,"values":[300,350,400,450,500,550,600]}}}}],"resolve":{"axis":{"y":"independent"}}}],"spacing":0,"bounds":"flush"}
],"spacing":0,"bounds":"flush"},{"hconcat":[
{"width":1012,"height":928,"data":{"name":"d"},"layer":[{"mark":{"type":"rect","width":73,"height":63,"clip":true},"encoding":{"x":{"field":"x","type":"quantitative","scale":{"domain":[0,252],"nice":false,"zero":false},"axis":{"values":[0,50,100,150,200,250]}},"y":{"field":"y","type":"quantitative","scale":{"domain":[-165,165],"nice":false,"zero":false},"axis":{"labelExpr":"''+datum.value","values":[-150,-100,-50,0,50,100,150]}},"color":{"field":"v","type":"quantitative","legend":null,"scale":{"interpolate":"rgb","domain":[280,322,407,492,577,620],"range":["#000080","#0000ff","#00ffff","#ffff00","#ff0000","#800000"]}}}},{"mark":{"type":"text","text":"(","align":"right","dx":-21,"dy":214,"font":"Liberation Serif","fontSize":75,"baseline":"middle"},"encoding":{"x":{"datum":150,"axis":{"orient":"top","labels":false,"values":[0,50,100,150,200,250]}},"y":{"datum":-165,"axis":{"orient":"right","labels":false,"values":[-150,-100,-50,0,50,100,150]}}}},{"mark":{"type":"text","text":"d","align":"center","dy":214,"font":"Liberation Serif","fontWeight":"bold","fontSize":75,"baseline":"middle"},"encoding":{"x":{"datum":150,"axis":null},"y":{"datum":-165,"axis":null}}},{"mark":{"type":"text","text":")","align":"left","dx":21,"dy":214,"font":"Liberation Serif","fontSize":75,"baseline":"middle"},"encoding":{"x":{"datum":150,"axis":null},"y":{"datum":-165,"axis":null}}}],"resolve":{"axis":{"x":"independent","y":"independent"}}},
{"width":43,"height":928,"view":{"stroke":null},"data":{"values":[{}]},"mark":{"type":"rect","opacity":0}},
{"vconcat":[{"width":53,"height":4,"view":{"stroke":null},"data":{"values":[{}]},"mark":{"type":"rect","opacity":0}},{"width":53,"height":928,"data":{"name":"bar"},"layer":[{"mark":{"type":"rect","width":53,"height":16,"clip":true},"encoding":{"x":{"datum":0.5,"scale":{"domain":[0,1]},"axis":null},"y":{"field":"v","type":"quantitative","scale":{"domain":[280,620],"nice":false,"zero":false},"axis":{"orient":"right","values":[300,350,400,450,500,550,600]}},"color":{"field":"v","type":"quantitative","legend":null,"scale":{"interpolate":"rgb","domain":[280,322,407,492,577,620],"range":["#000080","#0000ff","#00ffff","#ffff00","#ff0000","#800000"]}}}},{"mark":{"type":"rect","width":53,"height":16,"opacity":0},"encoding":{"x":{"datum":0.5,"axis":null},"y":{"field":"v","type":"quantitative","axis":{"orient":"left","labels":false,"values":[300,350,400,450,500,550,600]}}}}],"resolve":{"axis":{"y":"independent"}}}],"spacing":0,"bounds":"flush"},
{"width":352,"height":928,"view":{"stroke":null},"data":{"values":[{}]},"mark":{"type":"rect","opacity":0}},
{"width":1013,"height":928,"data":{"name":"e"},"layer":[{"mark":{"type":"rect","width":73,"height":63,"clip":true},"encoding":{"x":{"field":"x","type":"quantitative","scale":{"domain":[0,252],"nice":false,"zero":false},"axis":{"values":[0,50,100,150,200,250]}},"y":{"field":"y","type":"quantitative","scale":{"domain":[-165,165],"nice":false,"zero":false},"axis":{"labelExpr":"''+datum.value","values":[-150,-100,-50,0,50,100,150]}},"color":{"field":"v","type":"quantitative","legend":null,"scale":{"interpolate":"rgb","domain":[280,322,407,492,577,620],"range":["#000080","#0000ff","#00ffff","#ffff00","#ff0000","#800000"]}}}},{"mark":{"type":"text","text":"(","align":"right","dx":-17,"dy":214,"font":"Liberation Serif","fontSize":75,"baseline":"middle"},"encoding":{"x":{"datum":148,"axis":{"orient":"top","labels":false,"values":[0,50,100,150,200,250]}},"y":{"datum":-165,"axis":{"orient":"right","labels":false,"values":[-150,-100,-50,0,50,100,150]}}}},{"mark":{"type":"text","text":"e","align":"center","dy":214,"font":"Liberation Serif","fontWeight":"bold","fontSize":75,"baseline":"middle"},"encoding":{"x":{"datum":148,"axis":null},"y":{"datum":-165,"axis":null}}},{"mark":{"type":"text","text":")","align":"left","dx":17,"dy":214,"font":"Liberation Serif","fontSize":75,"baseline":"middle"},"encoding":{"x":{"datum":148,"axis":null},"y":{"datum":-165,"axis":null}}}],"resolve":{"axis":{"x":"independent","y":"independent"}}},
{"width":43,"height":928,"view":{"stroke":null},"data":{"values":[{}]},"mark":{"type":"rect","opacity":0}},
{"vconcat":[{"width":53,"height":4,"view":{"stroke":null},"data":{"values":[{}]},"mark":{"type":"rect","opacity":0}},{"width":53,"height":928,"data":{"name":"bar"},"layer":[{"mark":{"type":"rect","width":53,"height":16,"clip":true},"encoding":{"x":{"datum":0.5,"scale":{"domain":[0,1]},"axis":null},"y":{"field":"v","type":"quantitative","scale":{"domain":[280,620],"nice":false,"zero":false},"axis":{"orient":"right","values":[300,350,400,450,500,550,600]}},"color":{"field":"v","type":"quantitative","legend":null,"scale":{"interpolate":"rgb","domain":[280,322,407,492,577,620],"range":["#000080","#0000ff","#00ffff","#ffff00","#ff0000","#800000"]}}}},{"mark":{"type":"rect","width":53,"height":16,"opacity":0},"encoding":{"x":{"datum":0.5,"axis":null},"y":{"field":"v","type":"quantitative","axis":{"orient":"left","labels":false,"values":[300,350,400,450,500,550,600]}}}}],"resolve":{"axis":{"y":"independent"}}}],"spacing":0,"bounds":"flush"},
{"width":342,"height":928,"view":{"stroke":null},"data":{"values":[{}]},"mark":{"type":"rect","opacity":0}},
{"width":1012,"height":928,"data":{"name":"f"},"layer":[{"mark":{"type":"rect","width":73,"height":63,"clip":true},"encoding":{"x":{"field":"x","type":"quantitative","scale":{"domain":[0,252],"nice":false,"zero":false},"axis":{"values":[0,50,100,150,200,250]}},"y":{"field":"y","type":"quantitative","scale":{"domain":[-165,165],"nice":false,"zero":false},"axis":{"labelExpr":"''+datum.value","values":[-150,-100,-50,0,50,100,150]}},"color":{"field":"v","type":"quantitative","legend":null,"scale":{"interpolate":"rgb","domain":[280,322,407,492,577,620],"range":["#000080","#0000ff","#00ffff","#ffff00","#ff0000","#800000"]}}}},{"mark":{"type":"text","text":"(","align":"right","dx":-13,"dy":214,"font":"Liberation Serif","fontSize":75,"baseline":"middle"},"encoding":{"x":{"datum":150.7,"axis":{"orient":"top","labels":false,"values":[0,50,100,150,200,250]}},"y":{"datum":-165,"axis":{"orient":"right","labels":false,"values":[-150,-100,-50,0,50,100,150]}}}},{"mark":{"type":"text","text":"f","align":"center","dy":214,"font":"Liberation Serif","fontWeight":"bold","fontSize":75,"baseline":"middle"},"encoding":{"x":{"datum":150.7,"axis":null},"y":{"datum":-165,"axis":null}}},{"mark":{"type":"text","text":")","align":"left","dx":13,"dy":214,"font":"Liberation Serif","fontSize":75,"baseline":"middle"},"encoding":{"x":{"datum":150.7,"axis":null},"y":{"datum":-165,"axis":null}}}],"resolve":{"axis":{"x":"independent","y":"independent"}}},
{"width":44,"height":928,"view":{"stroke":null},"data":{"values":[{}]},"mark":{"type":"rect","opacity":0}},
{"vconcat":[{"width":51,"height":4,"view":{"stroke":null},"data":{"values":[{}]},"mark":{"type":"rect","opacity":0}},{"width":51,"height":928,"data":{"name":"bar"},"layer":[{"mark":{"type":"rect","width":53,"height":16,"clip":true},"encoding":{"x":{"datum":0.5,"scale":{"domain":[0,1]},"axis":null},"y":{"field":"v","type":"quantitative","scale":{"domain":[280,620],"nice":false,"zero":false},"axis":{"orient":"right","values":[300,350,400,450,500,550,600]}},"color":{"field":"v","type":"quantitative","legend":null,"scale":{"interpolate":"rgb","domain":[280,322,407,492,577,620],"range":["#000080","#0000ff","#00ffff","#ffff00","#ff0000","#800000"]}}}},{"mark":{"type":"rect","width":53,"height":16,"opacity":0},"encoding":{"x":{"datum":0.5,"axis":null},"y":{"field":"v","type":"quantitative","axis":{"orient":"left","labels":false,"values":[300,350,400,450,500,550,600]}}}}],"resolve":{"axis":{"y":"independent"}}}],"spacing":0,"bounds":"flush"}
],"spacing":0,"bounds":"flush"}],"spacing":117}
